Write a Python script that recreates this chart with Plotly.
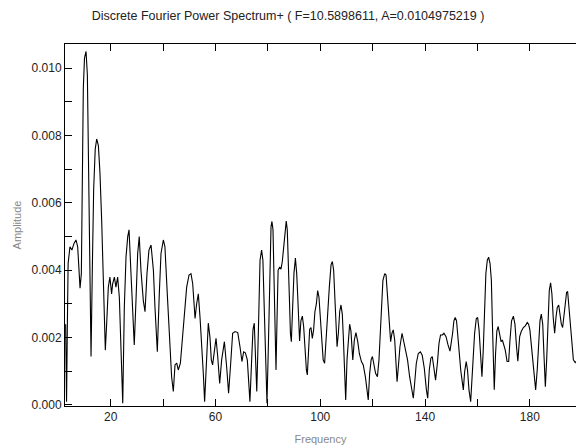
import plotly.graph_objects as go

freq = [2.8, 3.15, 3.45, 3.75, 4.45, 5.2, 6.0, 6.75, 7.4, 7.75, 8.3, 8.8, 9.15, 9.55, 10.0, 10.59,
        11.1, 11.6, 12.1, 12.5, 13.0, 13.5, 14.1, 14.65, 15.3, 15.9, 16.55, 17.05, 17.55, 17.95,
        18.45, 19.1, 19.7, 20.35, 20.75, 21.4, 22.0, 22.65, 23.3, 23.7, 24.2, 24.6, 25.2, 25.85,
        26.5, 27.0, 27.75, 28.4, 29.0, 29.65, 30.3, 30.9, 31.55, 32.45, 33.1, 33.85, 34.6, 35.4,
        36.3, 36.9, 37.8, 38.55, 39.2, 40.1, 40.7, 41.6, 42.4, 43.25, 43.9, 44.55, 45.2, 45.8,
        46.6, 47.35, 48.1, 49.0, 49.9, 50.65, 51.3, 51.8, 52.2, 52.8, 53.45, 54.1, 54.7, 55.35,
        55.85, 56.6, 57.25, 57.9, 58.4, 58.9, 59.55, 60.2, 60.85, 61.6, 62.35, 63.4, 64.3, 65.0,
        65.8, 66.55, 67.45, 68.5, 69.35, 70.1, 70.75, 71.4, 72.15, 72.65, 73.15, 73.8, 74.3, 74.8,
        75.3, 75.75, 76.35, 77.0, 77.6, 78.1, 78.6, 79.15, 79.65, 80.15, 80.7, 81.2, 81.55, 81.95,
        82.3, 82.7, 83.1, 83.5, 83.9, 84.5, 85.0, 85.5, 86.0, 86.5, 87.0, 87.4, 87.8, 88.2, 88.6,
        88.95, 89.45, 89.95, 90.5, 91.0, 91.4, 91.75, 92.1, 92.6, 93.15, 93.65, 94.2, 94.7, 95.05,
        95.45, 95.95, 96.45, 96.95, 97.45, 97.95, 98.5, 99.0, 99.5, 100.0, 100.5, 101.1, 101.65,
        102.2, 102.8, 103.45, 104.1, 104.6, 105.1, 105.5, 105.9, 106.4, 106.9, 107.4, 107.9, 108.4,
        108.8, 109.2, 109.7, 110.2, 110.7, 111.2, 111.7, 112.4, 113.0, 113.6, 114.3, 114.9, 115.7,
        116.4, 117.2, 117.95, 118.3, 118.85, 119.4, 119.9, 120.5, 121.1, 121.8, 122.4, 122.9, 123.4,
        123.9, 124.6, 125.1, 125.6, 126.05, 126.5, 126.85, 127.35, 127.85, 128.4, 128.9, 129.3,
        129.8, 130.4, 131.2, 131.8, 132.6, 133.3, 134.1, 134.9, 135.5, 136.0, 136.65, 137.4, 138.2,
        138.9, 139.7, 140.5, 141.0, 141.6, 142.2, 142.75, 143.4, 144.0, 144.7, 145.3, 145.9, 146.6,
        147.2, 148.0, 148.7, 149.5, 150.5, 151.0, 151.5, 152.0, 152.55, 153.1, 153.6, 154.1, 154.6,
        155.1, 155.7, 156.2, 156.75, 157.4, 157.9, 158.4, 158.9, 159.55, 160.05, 160.6, 161.1,
        161.7, 162.2, 162.7, 163.2, 163.75, 164.25, 164.8, 165.3, 165.7, 166.05, 166.4, 166.9,
        167.4, 167.9, 168.5, 169.0, 169.5, 170.0, 170.6, 171.3, 171.9, 172.4, 173.0, 173.7, 174.3,
        174.9, 175.4, 176.1, 176.7, 177.5, 178.25, 179.0, 179.5, 180.0, 180.5, 181.05, 181.55,
        182.2, 182.8, 183.3, 183.85, 184.35, 184.9, 185.4, 185.9, 186.4, 186.9, 187.4, 187.9,
        188.4, 188.9, 189.45, 189.95, 190.45, 191.0, 191.5, 192.0, 192.5, 193.0, 193.5, 194.0,
        194.4, 194.9, 195.4, 195.9, 196.6, 197.3, 197.8]

amplitude = [0.0024, 0.0001, 0.0023, 0.0042, 0.0047, 0.0046, 0.0048, 0.0049, 0.0047, 0.0040,
             0.00347, 0.0039, 0.0071, 0.0094, 0.0103, 0.0104975, 0.0098, 0.0064, 0.0039, 0.00144,
             0.0041, 0.0064, 0.0076, 0.0079, 0.0077, 0.0069, 0.0055, 0.0039, 0.0022, 0.00163,
             0.0024, 0.0035, 0.0038, 0.0033, 0.0036, 0.0038, 0.0035, 0.0038, 0.0032, 0.0023,
             0.0013, 0.00005, 0.0029, 0.0044, 0.0050, 0.0052, 0.0039, 0.0030, 0.00178, 0.0031,
             0.0045, 0.0050, 0.0040, 0.0031, 0.00277, 0.0039, 0.0046, 0.00475, 0.0040, 0.0029,
             0.00158, 0.0033, 0.0045, 0.0049, 0.0047, 0.0033, 0.0019, 0.00084, 0.0004, 0.00119,
             0.00124, 0.00104, 0.00124, 0.0019, 0.0027, 0.0035, 0.00386, 0.0039, 0.0036, 0.0030,
             0.00257, 0.0030, 0.0033, 0.0026, 0.0019, 0.00094, 0.0001, 0.00134, 0.00243, 0.0020,
             0.00134, 0.00119, 0.00158, 0.00198, 0.00144, 0.00064, 0.00134, 0.00188, 0.00109,
             0.00035, 0.00124, 0.00213, 0.00218, 0.00215, 0.00173, 0.00129, 0.00158, 0.00155,
             0.00134, 0.00064, 0.0001, 0.00134, 0.00223, 0.00243, 0.0015, 0.0004, 0.00213, 0.0043,
             0.0046, 0.0043, 0.0029, 0.00114, 0.00005, 0.00163, 0.0041, 0.0053, 0.00545, 0.0052,
             0.0039, 0.0019, 0.00104, 0.0026, 0.0040, 0.0041, 0.00403, 0.00426, 0.0047, 0.00515,
             0.00546, 0.0052, 0.0044, 0.0032, 0.00213, 0.00188, 0.0029, 0.0039, 0.00436, 0.0039,
             0.0032, 0.00233, 0.0019, 0.0025, 0.00264, 0.00233, 0.00153, 0.00104, 0.00089, 0.00173,
             0.00225, 0.0023, 0.00198, 0.00223, 0.00277, 0.0030, 0.0034, 0.0032, 0.0025, 0.0019,
             0.00134, 0.00124, 0.00193, 0.0029, 0.0035, 0.00416, 0.00426, 0.0040, 0.0032, 0.00233,
             0.00173, 0.00213, 0.00277, 0.00297, 0.0027, 0.0020, 0.00104, 0.00015, 0.00134, 0.0020,
             0.0024, 0.0022, 0.00134, 0.00193, 0.00215, 0.00188, 0.00153, 0.00129, 0.00119, 0.00084,
             0.0004, 0.00015, 0.00094, 0.00134, 0.00144, 0.00119, 0.00094, 0.00084, 0.00134, 0.00213,
             0.0030, 0.0037, 0.0039, 0.00386, 0.0033, 0.0027, 0.0020, 0.00188, 0.00213, 0.00223,
             0.00193, 0.00114, 0.00069, 0.00114, 0.00173, 0.00213, 0.00193, 0.00163, 0.00134,
             0.00084, 0.00045, 0.0002, 0.00064, 0.00124, 0.00153, 0.00158, 0.00148, 0.00109,
             0.00045, 0.0002, 0.00104, 0.00139, 0.00144, 0.00109, 0.00074, 0.00124, 0.00183,
             0.00208, 0.00208, 0.00213, 0.00203, 0.0018, 0.0016, 0.00213, 0.0025, 0.0026, 0.0025,
             0.0020, 0.00144, 0.00104, 0.00074, 0.00045, 0.00099, 0.00129, 0.00104, 0.00045, 0.0001,
             0.00074, 0.00153, 0.00213, 0.00257, 0.0026, 0.00223, 0.00163, 0.00084, 0.00163, 0.0029,
             0.0039, 0.0043, 0.00439, 0.0042, 0.0037, 0.0024, 0.00134, 0.00045, 0.00153, 0.0022,
             0.00233, 0.00208, 0.00188, 0.00193, 0.00178, 0.00163, 0.00129, 0.00129, 0.00193, 0.0025,
             0.00264, 0.0024, 0.00173, 0.0013, 0.00203, 0.00218, 0.0023, 0.00235, 0.00245, 0.0024,
             0.00223, 0.00183, 0.00134, 0.00094, 0.00045, 0.00104, 0.00193, 0.0025, 0.0027, 0.0024,
             0.00144, 0.00054, 0.00134, 0.0026, 0.0034, 0.00363, 0.0033, 0.0026, 0.00213, 0.0026,
             0.0029, 0.00297, 0.0027, 0.0024, 0.0023, 0.0027, 0.00307, 0.00334, 0.00337, 0.0029,
             0.0023, 0.00173, 0.00134, 0.00126, 0.0013]

x_tick_vals = [20, 40, 60, 80, 100, 120, 140, 160, 180, 200]
x_tick_text = ["20", "", "60", "", "100", "", "140", "", "180", ""]
y_tick_vals = [0.000, 0.001, 0.002, 0.003, 0.004, 0.005, 0.006, 0.007, 0.008, 0.009, 0.010]
y_tick_text = ["0.000", "", "0.002", "", "0.004", "", "0.006", "", "0.008", "", "0.010"]

title_text = "Discrete Fourier Power Spectrum+ ( F=10.5898611, A=0.0104975219 )"

FONT = "Liberation Sans, Arial, sans-serif"

fig = go.Figure()
fig.add_trace(go.Scatter(x=freq, y=amplitude, mode="lines",
                         line=dict(color="#000000", width=1.1),
                         hoverinfo="skip", showlegend=False))

yr = [-0.00003, 0.01072]

fig.update_layout(
    width=576, height=447,
    margin=dict(l=65, r=0, t=44, b=41),
    paper_bgcolor="white", plot_bgcolor="white",
    font=dict(family=FONT, color="#222222", size=12),
    title=dict(text=title_text, x=0.5, xref="container", xanchor="center",
               y=1 - 16 / 447, yref="container", yanchor="middle",
               font=dict(family=FONT, size=12.5, color="#222222")),
    xaxis=dict(range=[2.56, 197.6], tickvals=x_tick_vals, ticktext=x_tick_text,
               ticks="inside", ticklen=7, tickcolor="#000", tickwidth=1,
               showline=True, linecolor="#000", linewidth=1, mirror="ticks",
               showgrid=False, zeroline=False,
               tickfont=dict(size=12, color="#222222"),
               title=dict(text="Frequency", standoff=11,
                          font=dict(size=11, color="#888888"))),
    yaxis=dict(range=yr, tickvals=y_tick_vals, ticktext=y_tick_text,
               ticks="inside", ticklen=7, tickcolor="#000", tickwidth=1,
               showline=True, linecolor="#000", linewidth=1, mirror=False,
               showgrid=False, zeroline=False,
               tickfont=dict(size=12, color="#222222"),
               title=dict(text="Amplitude", standoff=7,
                          font=dict(size=11, color="#888888"))),
    yaxis2=dict(range=yr, overlaying="y", side="right", anchor="x",
                tickvals=y_tick_vals, showticklabels=False,
                ticks="inside", ticklen=2, tickcolor="#000", tickwidth=1,
                showline=False, showgrid=False, zeroline=False),
)

fig.write_html("out.html")
